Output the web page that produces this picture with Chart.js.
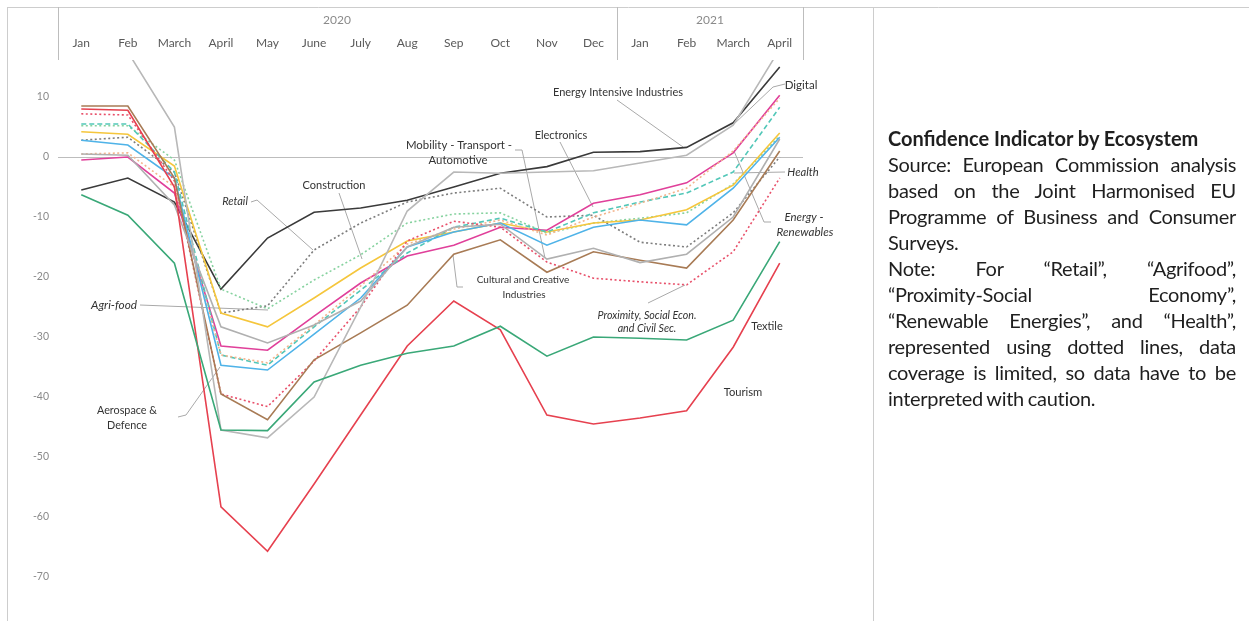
<!DOCTYPE html>
<html>
<head>
<meta charset="utf-8">
<script src="https://cdn.jsdelivr.net/npm/chart.js@4/dist/chart.umd.min.js"></script>
<style>
  html, body { margin: 0; padding: 0; background: #fff; }
  body { width: 1249px; height: 621px; position: relative; overflow: hidden; font-family: Lato, "Open Sans", sans-serif; }
  #chart { position: absolute; left: 0; top: 0; }
  #note { position: absolute; left: 888px; top: 125px; width: 348px; font-size: 20px; letter-spacing: -0.3px; word-spacing: -1px; line-height: 26px; color: #1f1f1f; }
  #note div { text-align: justify; text-align-last: justify; white-space: nowrap; }
  #note div.l { text-align: left; text-align-last: left; }
  #note b { font-weight: 700; letter-spacing: 0; word-spacing: 0; }
</style>
</head>
<body>
<canvas id="chart" width="1249" height="621"></canvas>
<div id="note">
  <div class="l"><b>Confidence Indicator by Ecosystem</b></div>
  <div>Source: European Commission analysis</div>
  <div>based on the Joint Harmonised EU</div>
  <div>Programme of Business and Consumer</div>
  <div class="l">Surveys.</div>
  <div>Note: For “Retail”, “Agrifood”,</div>
  <div>“Proximity-Social Economy”,</div>
  <div>“Renewable Energies”, and “Health”,</div>
  <div>represented using dotted lines, data</div>
  <div>coverage is limited, so data have to be</div>
  <div class="l">interpreted with caution.</div>
</div>
<script>
// months Jan 2020 .. April 2021
const months = ['Jan', 'Feb', 'March', 'April', 'May', 'June', 'July', 'Aug', 'Sep', 'Oct', 'Nov', 'Dec', 'Jan', 'Feb', 'March', 'April'];
const years = ['2020', '2021'];
const yTicks = [10, 0, -10, -20, -30, -40, -50, -60, -70];

// solid lines
const digital      = [18, 17.5, 5, -45.5, -46.8, -40, -25, -9, -2.5, -2.7, -2.5, -2.3, -1, 0.3, 5.3, 18];
const energyInt    = [-5.5, -3.5, -7.5, -22, -13.5, -9.2, -8.5, -7.2, -5, -2.7, -1.6, 0.8, 0.9, 1.6, 5.7, 15];
const mobility     = [0.5, 0.3, -8, -28.3, -31, -28, -24, -15, -11.7, -11.2, -17, -15.2, -17.6, -16.2, -10, 3];
const construction = [4.2, 3.8, -1.5, -26, -28.3, -23.5, -18.5, -14, -12.5, -11, -12.5, -11, -10.5, -8.8, -4.7, 4];
const electronics  = [-0.5, 0, -6, -31.5, -32.2, -26.5, -21, -16.5, -14.7, -11.7, -12.2, -7.7, -6.3, -4.3, 0.7, 10.3];
const aerospace    = [2.8, 2, -3.5, -34.7, -35.5, -29.5, -23.5, -15, -12.5, -11, -14.7, -11.7, -10.5, -11.3, -5.2, 3.3];
const cultural     = [8.5, 8.5, -3.5, -39.5, -43.8, -33.8, -29.3, -24.7, -16.2, -13.8, -19.2, -15.8, -17.2, -18.5, -10.5, 1];
const tourism      = [8, 7.8, -5, -58.3, -65.7, -54.5, -43, -31.5, -24, -28.8, -43, -44.5, -43.5, -42.3, -31.7, -17.7];
const textile      = [-6.3, -9.7, -17.7, -45.5, -45.6, -37.5, -34.7, -32.7, -31.5, -28.2, -33.2, -30, -30.2, -30.5, -27.2, -14.1];
// dotted lines (limited coverage)
const retail       = [2.8, 3.3, -2.5, -26, -24.8, -15.5, -11, -7.5, -6, -5.2, -10, -9.7, -14.2, -15, -9.3, 0];
const agrifood     = [5.2, 5.2, -0.5, -22, -25.3, -20.5, -16.3, -11, -9.5, -9.3, -12.7, -11, -10.2, -9.3, -4.5, 3.5];
const proximity    = [7.2, 7, -4, -39.5, -41.6, -34, -25, -14, -10.7, -11.7, -17.5, -20.2, -20.8, -21.3, -15.8, -3.5];
const health       = [5.5, 5.5, -2.5, -33, -34.7, -28.3, -22.2, -16, -11.7, -10.2, -12.5, -9.3, -7.5, -6, -2.5, 8.3];
const renewables   = [0.5, 0.7, -5, -33, -34.3, -28, -21.5, -14.5, -12, -10.5, -13, -10, -7.7, -5.2, 1, 9.8];

const DOT = [2, 2.5];
function ds(label, data, color, dash) {
    return {
        label: label,
        data: data,
        borderColor: color,
        borderWidth: 1.6,
        borderDash: dash || [],
        pointRadius: 0,
        tension: 0,
        fill: false
    };
}

const datasets = [
    ds('Textile', textile, '#3aa878'),
    ds('Tourism', tourism, '#e6414f'),
    ds('Digital', digital, '#b8b8b8'),
    ds('Mobility - Transport - Automotive', mobility, '#b0b0b0'),
    ds('Cultural and Creative Industries', cultural, '#a87b55'),
    ds('Proximity, Social Econ. and Civil Sec.', proximity, '#e8506a', DOT),
    ds('Aerospace & Defence', aerospace, '#4fb3e8'),
    ds('Energy - Renewables', renewables, '#f3b48c', DOT),
    ds('Health', health, '#52c7b8', [5, 3]),
    ds('Electronics', electronics, '#e0409a'),
    ds('Construction', construction, '#f5c63c'),
    ds('Agri-food', agrifood, '#86d29f', DOT),
    ds('Retail', retail, '#7d7d7d', DOT),
    ds('Energy Intensive Industries', energyInt, '#3a3a3a')
];

// labels drawn on the chart: [text, x, y, italic, size]
const notes = [
    ['Energy Intensive Industries', 618, 92, false, 11],
    ['Digital', 801, 85, false, 11.5],
    ['Electronics', 561, 135, false, 11],
    ['Mobility - Transport -', 459, 145, false, 11.4],
    ['Automotive', 458, 160, false, 11.4],
    ['Construction', 334, 185, false, 11],
    ['Retail', 235, 201, true, 11],
    ['Agri-food', 114, 305, true, 11.8],
    ['Aerospace &', 127, 411, false, 10.8],
    ['Defence', 127, 426, false, 10.8],
    ['Cultural and Creative', 523, 280, false, 10],
    ['Industries', 524, 295, false, 10],
    ['Proximity, Social Econ.', 647, 316, true, 10.7],
    ['and Civil Sec.', 647, 329, true, 10.7],
    ['Textile', 767, 326, false, 11],
    ['Tourism', 743, 392, false, 11.2],
    ['Health', 803, 172, true, 11.2],
    ['Energy -', 804, 217, true, 11.4],
    ['Renewables', 805, 232, true, 11.6]
];
const leaders = [
    [[617, 100], [683, 147]],
    [[785, 84], [773, 87], [733, 125]],
    [[560, 142], [593, 207]],
    [[515, 150], [522, 150], [545, 258]],
    [[339, 193], [362, 259]],
    [[251, 202], [257, 200], [313, 250]],
    [[140, 305], [268, 310]],
    [[178, 417], [186, 415], [220, 367]],
    [[463, 287], [457, 287], [453, 255]],
    [[648, 303], [685, 285]],
    [[785, 172], [734, 173]],
    [[771, 222], [764, 222], [734, 151]]
];

function path(ctx, pts) {
    ctx.beginPath();
    pts.forEach(function (p, i) {
        if (i === 0) ctx.moveTo(p[0], p[1]); else ctx.lineTo(p[0], p[1]);
    });
    ctx.stroke();
}

const decor = {
    id: 'decor',
    beforeDatasetsDraw(chart) {
        const ctx = chart.ctx;
        ctx.save();
        ctx.strokeStyle = '#a9a9a9';
        ctx.lineWidth = 1;
        leaders.forEach(function (l) { path(ctx, l); });
        ctx.restore();
    },
    afterDraw(chart) {
        const ctx = chart.ctx;
        const area = chart.chartArea;
        ctx.save();
        // frame and header box
        ctx.strokeStyle = '#cdcdcd';
        ctx.lineWidth = 1;
        path(ctx, [[8, 7.5], [1249, 7.5]]);
        path(ctx, [[7.5, 7], [7.5, 621]]);
        path(ctx, [[873.5, 7], [873.5, 621]]);
        ctx.strokeStyle = '#bdbdbd';
        path(ctx, [[area.left + 0.5, 7], [area.left + 0.5, 60]]);
        path(ctx, [[617.5, 7], [617.5, 60]]);
        path(ctx, [[area.right + 0.5, 7], [area.right + 0.5, 60]]);
        // years
        ctx.fillStyle = '#8a8a8a';
        ctx.font = '12px Lato';
        ctx.textAlign = 'center';
        ctx.textBaseline = 'middle';
        ctx.fillText(years[0], 337, 20);
        ctx.fillText(years[1], 710, 20);
        // series labels
        ctx.fillStyle = '#333';
        notes.forEach(function (n) {
            ctx.font = (n[3] ? 'italic ' : '') + n[4] + 'px Lato';
            ctx.fillText(n[0], n[1], n[2]);
        });
        ctx.restore();
    }
};

new Chart(document.getElementById('chart'), {
    type: 'line',
    data: { labels: months, datasets: datasets },
    options: {
        responsive: false,
        animation: false,
        layout: { padding: { left: 0, right: 1249 - 803, top: 0, bottom: 0 } },
        plugins: { legend: { display: false }, tooltip: { enabled: false } },
        scales: {
            x: {
                position: 'top',
                offset: true,
                grid: { display: false },
                border: { display: false },
                ticks: { color: '#5a5a5a', font: { family: 'Lato', size: 12 }, padding: 1.5, maxRotation: 0, autoSkip: false },
                afterFit: function (s) { s.height = 60; s.paddingLeft = 0; s.paddingRight = 0; }
            },
            y: {
                min: -77.33,
                max: 16.17,
                grid: {
                    drawTicks: false,
                    color: function (c) { return c.tick && c.tick.value === 0 ? '#bdbdbd' : 'rgba(0,0,0,0)'; }
                },
                border: { display: false },
                ticks: { color: '#8a8a8a', font: { family: 'Lato', size: 10.5 }, padding: 9 },
                afterBuildTicks: function (s) { s.ticks = yTicks.map(function (v) { return { value: v }; }); },
                afterFit: function (s) { s.width = 58; s.paddingTop = 0; s.paddingBottom = 0; }
            }
        }
    },
    plugins: [decor]
});
</script>
</body>
</html>
